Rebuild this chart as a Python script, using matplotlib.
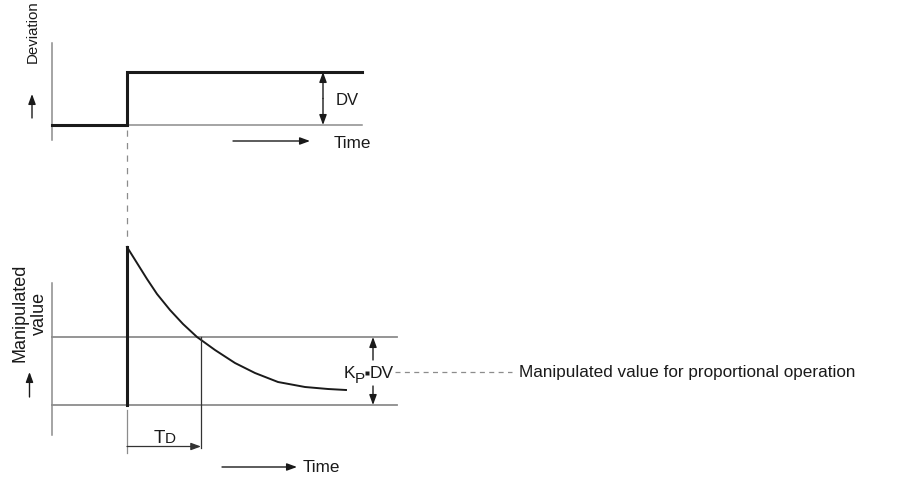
"""Derivative action: step in deviation and the decaying manipulated value (schematic)."""
import matplotlib
matplotlib.use("Agg")
import matplotlib.pyplot as plt

plt.rcParams["font.family"] = ["Liberation Sans", "DejaVu Sans"]

W, H = 897, 478
INK = "#1a1a1a"
GRAY = "#8c8c8c"

# top panel (deviation step), pixel frame of the original drawing
T_AXIS_X = 52
T_AXIS_Y = (43, 140)
T_STEP_X = 127
T_LOW, T_HIGH = 125, 72
T_END_X = 362
DV_X = 323

# bottom panel (manipulated value)
B_AXIS_Y = (283, 435)
B_PROP, B_BASE = 337, 405          # K_P*DV level and zero level
B_END_X = 397
PEAK_Y = 247
CURVE_X = [127, 137, 147, 157, 170, 183, 197, 215, 235, 255, 278, 305, 328, 346]
CURVE_Y = [247, 263, 279, 294, 310, 324, 337, 350, 363, 373, 382, 387, 389, 390]
TD_X = 201
KP_X = 373


def arrow(ax, tail, head, style="-|>", lw=1.0, color=INK):
    ax.annotate("", xy=head, xytext=tail,
                arrowprops=dict(arrowstyle=f"{style},head_length=0.6,head_width=0.22",
                                lw=lw, color=color, shrinkA=0, shrinkB=0))


def main():
    fig = plt.figure(figsize=(W / 100, H / 100), dpi=100)
    ax = fig.add_axes([0, 0, 1, 1])
    ax.set_xlim(0, W); ax.set_ylim(H, 0); ax.axis("off")

    # --- top: deviation step
    ax.plot([T_AXIS_X, T_AXIS_X], T_AXIS_Y, color=GRAY, lw=1.1)
    ax.plot([T_AXIS_X, T_END_X], [T_LOW, T_LOW], color=GRAY, lw=1.1)
    ax.plot([T_AXIS_X, T_STEP_X, T_STEP_X, T_END_X], [T_LOW, T_LOW, T_HIGH, T_HIGH],
            color=INK, lw=2.2, solid_joinstyle="miter")
    arrow(ax, (DV_X, (T_LOW + T_HIGH) / 2), (DV_X, T_HIGH))
    arrow(ax, (DV_X, (T_LOW + T_HIGH) / 2), (DV_X, T_LOW))
    ax.text(336, 100, "DV", fontsize=12, ha="left", va="center", color=INK)
    ax.text(33, 63, "Deviation", fontsize=10.8, rotation=90, ha="center", va="bottom", color=INK)
    arrow(ax, (32, 118), (32, 94))
    arrow(ax, (233, 141), (310, 141))
    ax.text(334, 143, "Time", fontsize=12.3, ha="left", va="center", color=INK)

    # dashed link between panels
    ax.plot([T_STEP_X, T_STEP_X], [130, 240], color=GRAY, lw=0.9, ls=(0, (5, 5)))

    # --- bottom: manipulated value
    ax.plot([T_AXIS_X, T_AXIS_X], B_AXIS_Y, color=GRAY, lw=1.1)
    ax.plot([T_AXIS_X, B_END_X], [B_PROP, B_PROP], color=GRAY, lw=1.3)
    ax.plot([T_AXIS_X, B_END_X], [B_BASE, B_BASE], color=GRAY, lw=1.3)
    ax.plot([T_STEP_X, T_STEP_X], [B_BASE, PEAK_Y], color=INK, lw=2.2)
    ax.plot(CURVE_X, CURVE_Y, color=INK, lw=1.4, solid_joinstyle="round")

    ax.text(30, 313, "Manipulated\nvalue", fontsize=13, rotation=90, ha="center",
            va="center", multialignment="center", linespacing=1.2, color=INK)
    arrow(ax, (29.5, 397), (29.5, 372))

    # T_D marker
    ax.plot([TD_X, TD_X], [B_PROP, 448], color="#333333", lw=0.9)
    ax.plot([T_STEP_X, T_STEP_X], [410, 453], color=GRAY, lw=0.9)
    arrow(ax, (T_STEP_X, 446.5), (TD_X, 446.5), color="#333333", lw=0.9)
    ax.text(154, 443, "T", fontsize=13.5, ha="left", va="baseline", color=INK)
    ax.text(164.5, 443, "D", fontsize=11, ha="left", va="baseline", color=INK)

    arrow(ax, (222, 467), (297, 467))
    ax.text(303, 468, "Time", fontsize=12.3, ha="left", va="center", color=INK)

    # K_P * DV annotation
    arrow(ax, (KP_X, 360), (KP_X, B_PROP))
    arrow(ax, (KP_X, 386), (KP_X, B_BASE))
    ax.text(344, 378, "K", fontsize=12.5, ha="left", va="baseline", color=INK)
    ax.text(355, 383, "P", fontsize=11, ha="left", va="baseline", color=INK)
    ax.plot([367], [373], marker="s", ms=2.2, color=INK, mec="none")
    ax.text(370, 378, "DV", fontsize=12.5, ha="left", va="baseline", color=INK)
    ax.plot([395, 512], [372, 372], color=GRAY, lw=0.9, ls=(0, (4, 3.5)))
    ax.text(519, 373, "Manipulated value for proportional operation", fontsize=12.3,
            ha="left", va="center", color=INK)

    fig.savefig("out.png", dpi=100, facecolor="white")


if __name__ == "__main__":
    main()
